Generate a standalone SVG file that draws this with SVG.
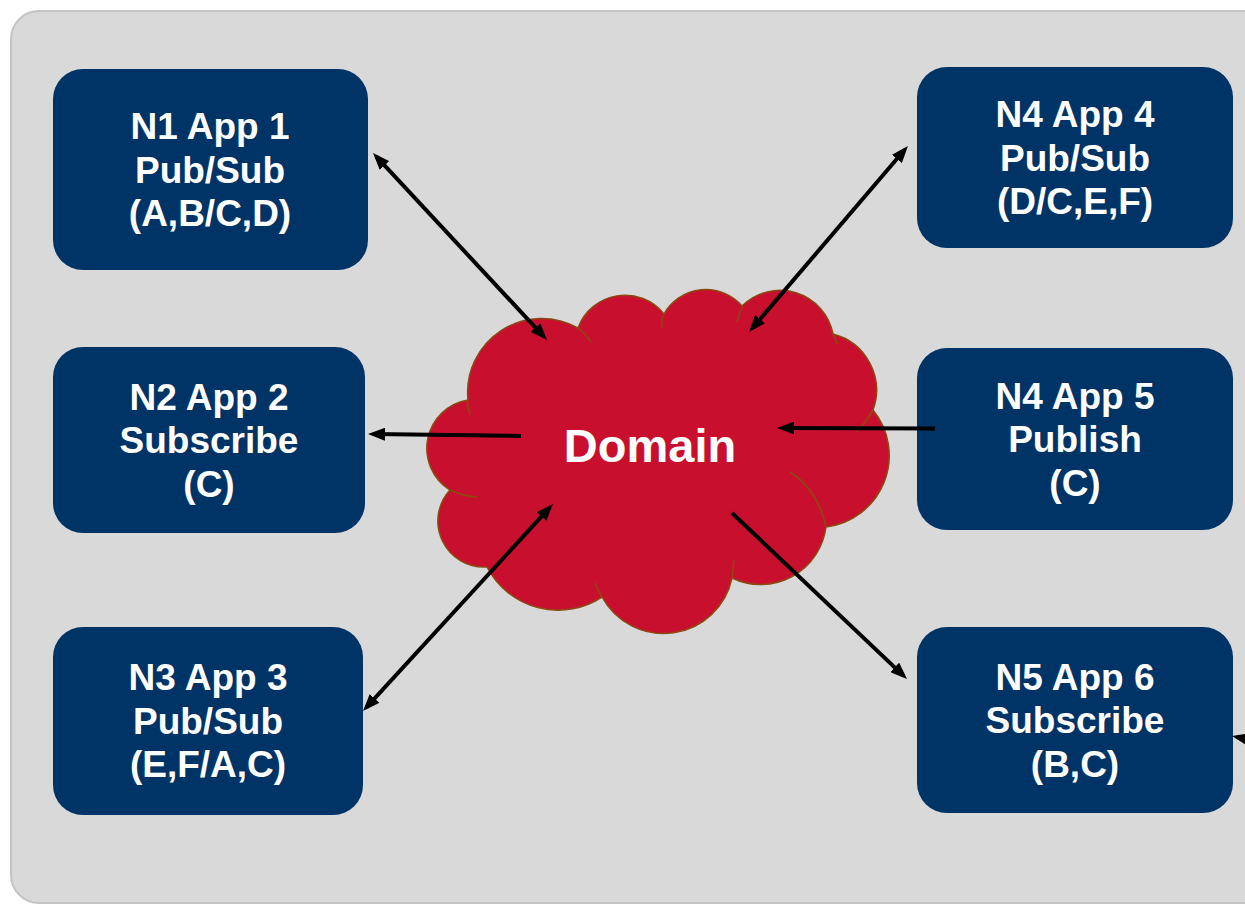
<svg xmlns="http://www.w3.org/2000/svg" width="1245" height="905" viewBox="0 0 1245 905">
  <style>
    .node rect { fill: #003366; }
    .node text { fill: #ffffff; font-family: "Liberation Sans", Arial, sans-serif; font-weight: bold; font-size: 37px; text-anchor: middle; }
    .cloud-body { fill: #c8102e; stroke: #8a4a10; stroke-width: 1.5; }
    .cloud-fold { fill: none; stroke: #8a4a10; stroke-width: 1.5; }
    .cloud-label { fill: #ffffff; font-family: "Liberation Sans", Arial, sans-serif; font-weight: bold; font-size: 47px; text-anchor: middle; }
    .link { stroke: #000000; stroke-width: 4; fill: none; }
  </style>
  <defs>
    <marker id="head" viewBox="0 0 17 13" refX="12" refY="6.5" markerWidth="17" markerHeight="13" markerUnits="userSpaceOnUse" orient="auto-start-reverse">
      <path d="M0,0 L17,6.5 L0,13 Z" fill="#000000"/>
    </marker>
  </defs>

  <!-- background panel -->
  <rect x="11" y="11" width="1262" height="892" rx="28" ry="28" fill="#d9d9d9" stroke="#c4c4c4" stroke-width="2"/>

  <!-- central domain cloud -->
  <g id="domain">
    <path class="cloud-body" d="M468,400 A74,74 0 0,1 578,328 A50,50 0 0,1 664,314 A48,48 0 0,1 742,306 A54,54 0 0,1 833,334 A58,58 0 0,1 873,410 A72,72 0 0,1 826,527 A66,66 0 0,1 732,578 A70,70 0 0,1 602,597 A80,80 0 0,1 487,567 A46,46 0 0,1 450,490 A49,49 0 0,1 468,400 Z"/>
    <path class="cloud-fold" d="M578,328 Q586,334 591,342"/>
    <path class="cloud-fold" d="M664,314 Q661,320 662,328"/>
    <path class="cloud-fold" d="M743,306 Q739,313 737,322"/>
    <path class="cloud-fold" d="M833,334 Q836,338 837,344"/>
    <path class="cloud-fold" d="M873,410 Q866,422 857,432"/>
    <path class="cloud-fold" d="M790,472 Q818,490 826,527"/>
    <path class="cloud-fold" d="M734,560 Q733,570 732,578"/>
    <path class="cloud-fold" d="M595,583 Q598,591 602,597"/>
    <path class="cloud-fold" d="M450,490 Q462,496 477,497"/>
    <path class="cloud-fold" d="M467,400 Q468,408 470,415"/>
    <text class="cloud-label" x="650" y="462">Domain</text>
  </g>

  <!-- application nodes -->
  <g id="n1-app1" class="node">
    <rect x="53" y="69" width="315" height="201" rx="30" ry="30"/>
    <text x="210" y="139">N1 App 1</text>
    <text x="210" y="182.5">Pub/Sub</text>
    <text x="210" y="226">(A,B/C,D)</text>
  </g>
  <g id="n2-app2" class="node">
    <rect x="53" y="347" width="312" height="186" rx="30" ry="30"/>
    <text x="209" y="410">N2 App 2</text>
    <text x="209" y="453">Subscribe</text>
    <text x="209" y="497">(C)</text>
  </g>
  <g id="n3-app3" class="node">
    <rect x="53" y="627" width="310" height="188" rx="30" ry="30"/>
    <text x="208" y="690">N3 App 3</text>
    <text x="208" y="734">Pub/Sub</text>
    <text x="208" y="777">(E,F/A,C)</text>
  </g>
  <g id="n4-app4" class="node">
    <rect x="917" y="67" width="316" height="181" rx="30" ry="30"/>
    <text x="1075" y="127">N4 App 4</text>
    <text x="1075" y="170.5">Pub/Sub</text>
    <text x="1075" y="214">(D/C,E,F)</text>
  </g>
  <g id="n4-app5" class="node">
    <rect x="917" y="348" width="316" height="182" rx="30" ry="30"/>
    <text x="1075" y="409">N4 App 5</text>
    <text x="1075" y="452">Publish</text>
    <text x="1075" y="496">(C)</text>
  </g>
  <g id="n5-app6" class="node">
    <rect x="917" y="627" width="316" height="186" rx="30" ry="30"/>
    <text x="1075" y="690">N5 App 6</text>
    <text x="1075" y="733">Subscribe</text>
    <text x="1075" y="777">(B,C)</text>
  </g>

  <!-- connectors -->
  <g id="connectors">
    <line class="link" x1="376.4" y1="156.7" x2="543.6" y2="336.3" marker-start="url(#head)" marker-end="url(#head)"/>
    <line class="link" x1="904.7" y1="149.8" x2="752.3" y2="328.2" marker-start="url(#head)" marker-end="url(#head)"/>
    <line class="link" x1="521" y1="436" x2="373" y2="434" marker-end="url(#head)"/>
    <line class="link" x1="935" y1="428.5" x2="782" y2="428" marker-end="url(#head)"/>
    <line class="link" x1="366.4" y1="707.3" x2="549.6" y2="507.7" marker-start="url(#head)" marker-end="url(#head)"/>
    <line class="link" x1="732" y1="513" x2="903.4" y2="675.6" marker-end="url(#head)"/>
    <line class="link" x1="1280" y1="746" x2="1236.9" y2="737" marker-end="url(#head)"/>
  </g>
</svg>
